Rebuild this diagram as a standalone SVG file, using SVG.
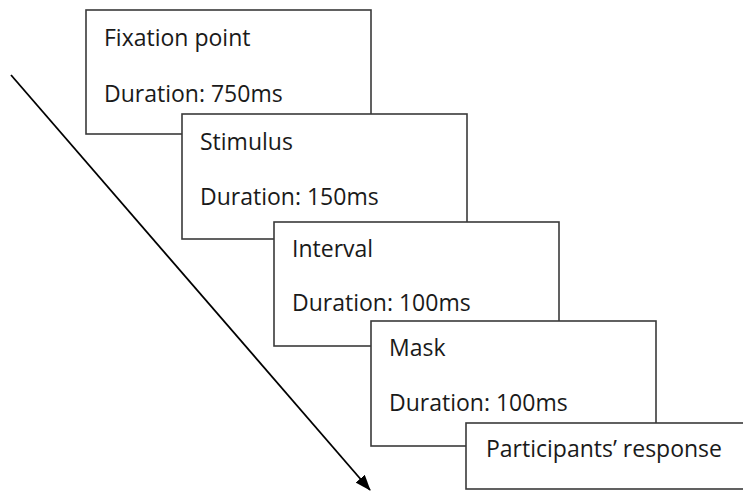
<svg xmlns="http://www.w3.org/2000/svg" width="743" height="492" viewBox="0 0 743 492">
<style>
.box{fill:#fff;stroke:#3a3a3a;stroke-width:1.6}
.t{font-family:"Open Sans","Liberation Sans",sans-serif;font-size:23px;fill:#1a1a1a}
</style>
<defs>
<marker id="ah2" viewBox="0 0 16 12" refX="15" refY="6" markerWidth="16" markerHeight="12" markerUnits="userSpaceOnUse" orient="auto">
<path d="M0,0 L16,6 L0,12 z" fill="#000"/>
</marker>
</defs>
<g id="connectors">
<line x1="11" y1="75" x2="370" y2="490" stroke="#000" stroke-width="1.8" marker-end="url(#ah2)"/>
</g>
<g id="fixation">
<rect class="box" x="86" y="10" width="285" height="124"/>
<text class="t" x="104" y="46">Fixation point</text>
<text class="t" x="104" y="102">Duration: 750ms</text>
</g>
<g id="stimulus">
<rect class="box" x="182" y="114" width="285" height="125"/>
<text class="t" x="200" y="150">Stimulus</text>
<text class="t" x="200" y="205">Duration: 150ms</text>
</g>
<g id="interval">
<rect class="box" x="274" y="222" width="285" height="124"/>
<text class="t" x="292" y="257">Interval</text>
<text class="t" x="292" y="311">Duration: 100ms</text>
</g>
<g id="mask">
<rect class="box" x="371" y="321" width="285" height="125"/>
<text class="t" x="389" y="356">Mask</text>
<text class="t" x="389" y="411">Duration: 100ms</text>
</g>
<g id="response">
<rect class="box" x="466" y="423" width="285" height="66"/>
<text class="t" x="486" y="457">Participants’ response</text>
</g>
</svg>
